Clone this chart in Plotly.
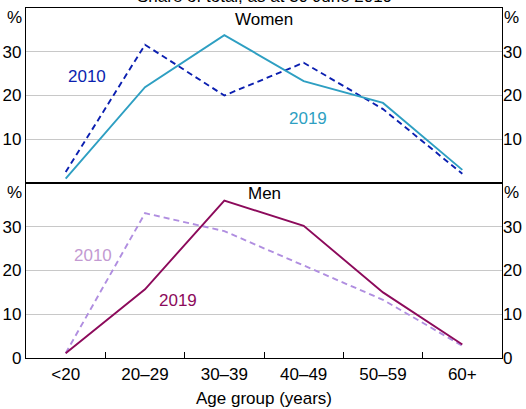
import plotly.graph_objects as go
from plotly.subplots import make_subplots

categories = ["<20", "20–29", "30–39", "40–49", "50–59", "60+"]
women_2010 = [2.5, 31.6, 20.0, 27.5, 16.9, 2.1]
women_2019 = [1.0, 21.9, 33.8, 23.3, 18.3, 3.0]
men_2010 = [1.1, 33.1, 29.0, 21.2, 13.3, 2.8]
men_2019 = [1.1, 15.7, 36.0, 30.2, 15.0, 3.1]

C_W10 = "#0b1fb0"
C_W19 = "#2e9fc2"
C_M10 = "#b08ee0"
C_M10_TXT = "#c39ad2"
C_M19 = "#8c0a5b"
FONT = "Arial, Liberation Sans, sans-serif"
FS = 17

fig = make_subplots(rows=2, cols=1, shared_xaxes=True, vertical_spacing=0)

fig.add_trace(go.Scatter(x=categories, y=women_2010, mode="lines",
                         line=dict(color=C_W10, width=1.9, dash="6px,4px")), row=1, col=1)
fig.add_trace(go.Scatter(x=categories, y=women_2019, mode="lines",
                         line=dict(color=C_W19, width=1.9)), row=1, col=1)
fig.add_trace(go.Scatter(x=categories, y=men_2010, mode="lines",
                         line=dict(color=C_M10, width=1.9, dash="6px,4px")), row=2, col=1)
fig.add_trace(go.Scatter(x=categories, y=men_2019, mode="lines",
                         line=dict(color=C_M19, width=1.9)), row=2, col=1)
# right-hand axes mirrors
fig.add_trace(go.Scatter(x=categories, y=women_2019, mode="lines", opacity=0,
                         hoverinfo="skip", xaxis="x", yaxis="y3"))
fig.add_trace(go.Scatter(x=categories, y=men_2019, mode="lines", opacity=0,
                         hoverinfo="skip", xaxis="x2", yaxis="y4"))

axis_font = dict(family=FONT, size=FS, color="black")
common_y = dict(range=[0, 40], showgrid=True, gridcolor="#c8c8c8", gridwidth=1,
                zeroline=False, ticks="", tickfont=axis_font, fixedrange=True,
                automargin=False)

fig.update_layout(
    width=526, height=409,
    margin=dict(l=26, r=24, t=8, b=51),
    paper_bgcolor="white", plot_bgcolor="white",
    showlegend=False,
    font=dict(family=FONT, size=FS, color="black"),
    xaxis=dict(showline=True, linecolor="black", linewidth=1.3, mirror=True,
               showticklabels=False, ticks="", showgrid=False, type="category",
               range=[-0.5, 5.5], automargin=False),
    xaxis2=dict(showline=True, linecolor="black", linewidth=1.3, mirror=True,
                ticks="inside", ticklen=6, tickcolor="black", tickson="boundaries",
                showgrid=False, tickfont=axis_font, type="category",
                range=[-0.5, 5.5], automargin=False,
                title=dict(text="Age group (years)", font=axis_font, standoff=9)),
    yaxis=dict(**common_y, tickvals=[10, 20, 30], showline=True, linecolor="black",
               linewidth=1.3, mirror=True),
    yaxis2=dict(**common_y, tickvals=[0, 10, 20, 30], showline=True, linecolor="black",
                linewidth=1.3, mirror=True),
    yaxis3=dict(**common_y, tickvals=[10, 20, 30], overlaying="y", side="right",
                anchor="x", showline=False),
    yaxis4=dict(**common_y, tickvals=[0, 10, 20, 30], overlaying="y2", side="right",
                anchor="x2", showline=False),
)
fig.update_layout(yaxis3=dict(showgrid=False), yaxis4=dict(showgrid=False))

ann = []
def txt(x, y, s, color="black", xref="x", yref="y", **kw):
    ann.append(dict(x=x, y=y, xref=xref, yref=yref, text=s, showarrow=False,
                    font=dict(family=FONT, size=FS, color=color), **kw))

# Title (clipped at top of page, as in reference)
ann.append(dict(x=0.5, y=1.0, xref="paper", yref="paper", yshift=12,
                text="Share of total, as at 30 June 2019",
                showarrow=False, yanchor="middle", font=dict(family=FONT, size=FS, color="black")))
# panel titles
txt(0.5, 0.966, "Women", xref="paper", yref="paper", yanchor="middle")
txt(0.5, 0.471, "Men", xref="paper", yref="paper", yanchor="middle")
# % labels
for yy in [0.972, 0.473]:
    ann.append(dict(x=0, y=yy, xref="paper", yref="paper", text="%", showarrow=False,
                    xanchor="right", xshift=-2, yanchor="middle", font=axis_font))
    ann.append(dict(x=1, y=yy, xref="paper", yref="paper", text="%", showarrow=False,
                    xanchor="left", xshift=0, yanchor="middle", font=axis_font))
# series labels
txt(0.27, 24.3, "2010", C_W10, xref="x", yref="y")
txt(3.06, 14.8, "2019", C_W19, xref="x", yref="y")
txt(0.345, 23.5, "2010", C_M10_TXT, xref="x2", yref="y2")
txt(1.41, 13.2, "2019", C_M19, xref="x2", yref="y2")

fig.update_layout(annotations=ann)
fig.write_html("out.html", config={"displayModeBar": False},
               post_script="document.body.style.margin='0';")
